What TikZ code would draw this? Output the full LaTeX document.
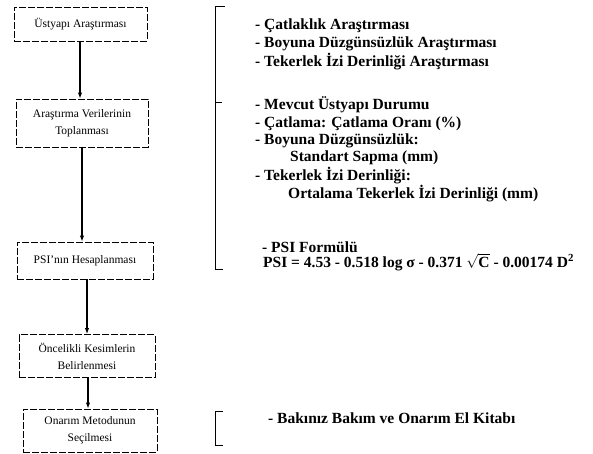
\documentclass[tikz,border=0pt]{standalone}
\usepackage{fontspec}
\setmainfont{Liberation Serif}
\usetikzlibrary{arrows.meta}
\begin{document}
\begin{tikzpicture}[x=1pt,y=-1pt,
  stepbox/.style={draw, line width=0.8pt, dash pattern=on 7pt off 2pt,
    inner sep=0pt, align=center, font=\fontsize{11.5}{17}\selectfont},
  flow/.style={line width=1.2pt, -{Latex[length=6pt,width=4.5pt]}},
  note/.style={anchor=base west, inner sep=0pt,
    font=\fontsize{15.5}{17}\selectfont\bfseries},
  brace/.style={line width=0.9pt}]
\useasboundingbox (0,0) rectangle (593,454);

% process steps
\node[stepbox, minimum width=133pt, minimum height=34pt] (b1) at (80.5,24)
  {Üstyapı Araştırması};
\node[stepbox, minimum width=132pt, minimum height=48pt] (b2) at (82,123)
  {Araştırma Verilerinin\\Toplanması};
\node[stepbox, minimum width=136pt, minimum height=37pt] (b3) at (85,260.5)
  {PSI'nın Hesaplanması};
\node[stepbox, minimum width=136pt, minimum height=43pt] (b4) at (87,356)
  {Öncelikli Kesimlerin\\Belirlenmesi};
\node[stepbox, minimum width=134pt, minimum height=43pt] (b5) at (90,430.5)
  {Onarım Metodunun\\Seçilmesi};

% connectors
\coordinate (a1) at (80,41);
\coordinate (a2) at (82,147);
\coordinate (a3) at (87,279);
\coordinate (a4) at (88,377.5);
\draw[flow] (a1) -- (a1 |- b2.north);
\draw[flow] (a2) -- (a2 |- b3.north);
\draw[flow] (a3) -- (a3 |- b4.north);
\draw[flow] (a4) -- (a4 |- b5.north);

% brackets
\coordinate (k1) at (225,6);
\coordinate (k2) at (215,6);
\coordinate (k3) at (215,269);
\coordinate (k4) at (223,269);
\coordinate (km) at (222,102);
\draw[brace] (k1) -- (k2) -- (k3) -- (k4);
\draw[brace] (k2 |- km) -- (km);
\coordinate (m1) at (223,411);
\coordinate (m2) at (215,411);
\coordinate (m3) at (215,445);
\coordinate (m4) at (223,445);
\draw[brace] (m1) -- (m2) -- (m3) -- (m4);

% notes
\node[note] (t1) at (255,30) {- Çatlaklık Araştırması};
\node[note] (t2) at (255,48) {- Boyuna Düzgünsüzlük Araştırması};
\node[note] (t3) at (255,67) {- Tekerlek İzi Derinliği Araştırması};
\node[note] (t4) at (255,110) {- Mevcut Üstyapı Durumu};
\node[note] (t5) at (255,128) {- Çatlama: Çatlama Oranı (\%)};
\node[note] (t6) at (255,145) {- Boyuna Düzgünsüzlük:};
\node[note] (t7) at (290,162) {Standart Sapma (mm)};
\node[note] (t8) at (255,181) {- Tekerlek İzi Derinliği:};
\node[note] (t9) at (288,199) {Ortalama Tekerlek İzi Derinliği (mm)};
\node[note] (t10) at (262,252) {- PSI Formülü};
\node[note] (t11) at (263,267)
  {PSI = 4.53 - 0.518 log σ - 0.371 $\sqrt{\textbf{C}}$ - 0.00174 D\textsuperscript{2}};
\node[note] (t12) at (268,423) {- Bakınız Bakım ve Onarım El Kitabı};
\end{tikzpicture}
\end{document}
